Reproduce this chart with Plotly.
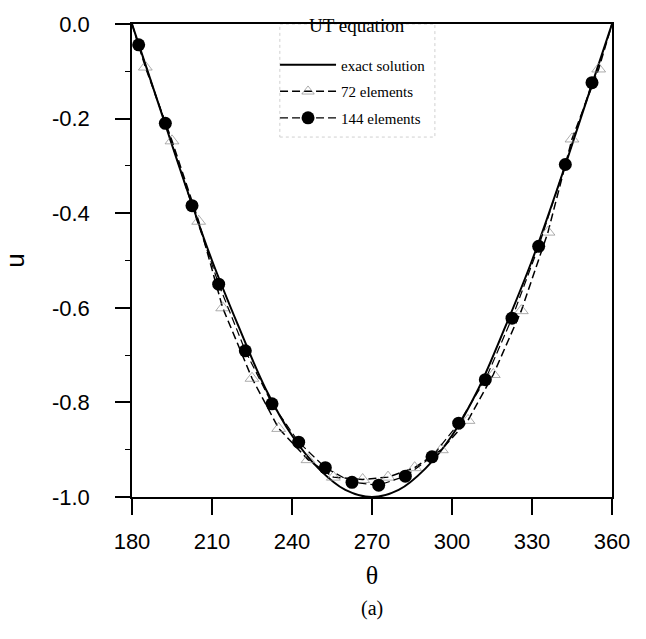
import plotly.graph_objects as go

# exact solution at 10 degree spacing
theta_exact = [180, 190, 200, 210, 220, 230, 240, 250, 260, 270,
               280, 290, 300, 310, 320, 330, 340, 350, 360]
u_exact = [0.0, -0.17, -0.34, -0.50, -0.64, -0.77, -0.87, -0.94, -0.985, -1.0,
           -0.985, -0.94, -0.87, -0.77, -0.64, -0.50, -0.34, -0.17, 0.0]

# 72 elements (open triangles, dashed line)
theta_72 = [180, 185, 195, 205, 214, 225, 235, 246, 255.5, 266.5, 276, 286, 296,
            306, 315.5, 326, 336, 345, 355, 360]
u_72 = [0.0, -0.091, -0.247, -0.417, -0.60, -0.749, -0.855, -0.921, -0.958, -0.963,
        -0.958, -0.938, -0.900, -0.838, -0.741, -0.606, -0.44, -0.243, -0.095, 0.0]

# 144 elements (filled circles)
theta_144 = [182.5, 192.5, 202.5, 212.5, 222.5, 232.5, 242.5, 252.5, 262.5,
             272.5, 282.5, 292.5, 302.5, 312.5, 322.5, 332.5, 342.5, 352.5]
u_144 = [-0.044, -0.21, -0.384, -0.55, -0.691, -0.803, -0.884, -0.938, -0.969,
         -0.975, -0.956, -0.915, -0.844, -0.752, -0.622, -0.47, -0.297, -0.124]

x_ticks = [180, 210, 240, 270, 300, 330, 360]
y_ticks = [0.0, -0.2, -0.4, -0.6, -0.8, -1.0]

SERIF = "Liberation Serif"
SANS = "Liberation Sans"

tri_sizes = [0] + [12] * (len(theta_72) - 2) + [0]

fig = go.Figure()
fig.add_trace(go.Scatter(
    x=theta_exact, y=u_exact, mode="lines", name="exact solution",
    line=dict(color="black", width=2, shape="spline", smoothing=1.0),
    legendgroup="a"))
fig.add_trace(go.Scatter(
    x=theta_72, y=u_72, mode="lines+markers", name="72 elements",
    line=dict(color="black", width=1.5, dash="8px,4px"),
    marker=dict(symbol="triangle-up-open", size=tri_sizes, color="#8a8a8a",
                line=dict(width=1, color="#8a8a8a")),
    legendgroup="b"))
fig.add_trace(go.Scatter(
    x=theta_144, y=u_144, mode="lines+markers", name="144 elements",
    line=dict(color="black", width=1.2, dash="8px,4px"),
    marker=dict(symbol="circle", size=13, color="black"),
    legendgroup="c"))

fig.update_layout(
    width=646, height=639,
    margin=dict(l=132, r=34, t=16, b=142),
    paper_bgcolor="white", plot_bgcolor="white",
    showlegend=True,
    legend=dict(
        x=0.298, xanchor="left", y=0.948, yanchor="top",
        font=dict(family=SERIF, size=15, color="black"),
        bgcolor="rgba(255,255,255,0)",
        borderwidth=0, itemwidth=56,
        traceorder="grouped", tracegroupgap=4,
    ),
    shapes=[dict(type="rect", xref="paper", yref="paper",
                 x0=0.308, x1=0.631, y0=0.761, y1=1.0,
                 line=dict(color="#d0d0d0", width=1, dash="dot"),
                 fillcolor="rgba(0,0,0,0)", layer="below")],
    xaxis=dict(
        range=[180, 360], tickvals=x_ticks, ticktext=[str(v) for v in x_ticks],
        showgrid=False, zeroline=False,
        showline=True, linecolor="black", linewidth=1.5, mirror=True,
        ticks="outside", ticklen=16, tickwidth=1.5, tickcolor="black",
        ticklabelstandoff=8,
        tickfont=dict(family=SANS, size=22, color="black"),
        title=dict(text="θ", standoff=13,
                   font=dict(family=SERIF, size=26, color="black")),
    ),
    yaxis=dict(
        range=[-1.0, 0.0], tickvals=y_ticks, ticktext=[f"{v:.1f}" for v in y_ticks],
        showgrid=False, zeroline=False,
        showline=True, linecolor="black", linewidth=1.5, mirror=True,
        ticks="outside", ticklen=15, tickwidth=1.5, tickcolor="black",
        ticklabelstandoff=21,
        tickfont=dict(family=SANS, size=22, color="black"),
        minor=dict(dtick=0.1, ticks="outside", ticklen=5, tickwidth=1.2,
                   tickcolor="black", showgrid=False),
        title=dict(text="u", standoff=20,
                   font=dict(family=SANS, size=26, color="black")),
    ),
    annotations=[
        dict(text="UT equation", xref="paper", yref="paper", x=0.469, y=0.997,
             xanchor="center", yanchor="middle", showarrow=False,
             font=dict(family=SERIF, size=19, color="black")),
        dict(text="(a)", xref="paper", yref="paper", x=0.5, y=-0.235,
             xanchor="center", yanchor="middle", showarrow=False,
             font=dict(family=SERIF, size=20, color="black")),
    ],
)

fig.write_html("out.html")
